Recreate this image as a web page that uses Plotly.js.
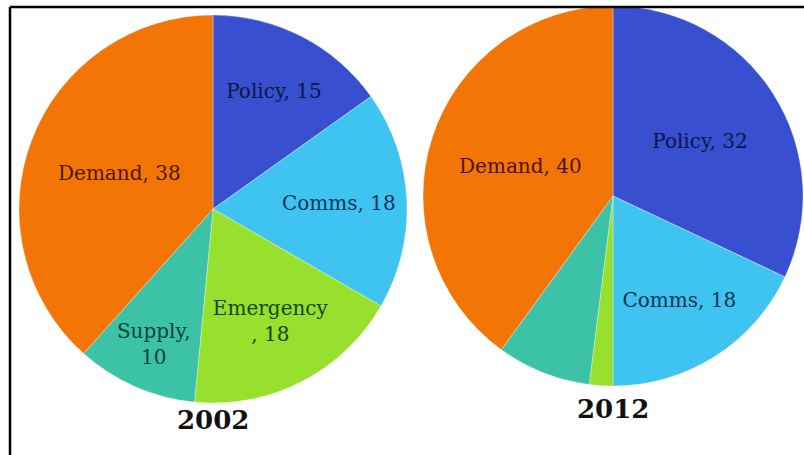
<!DOCTYPE html>
<html>
<head>
<meta charset="utf-8">
<script src="https://cdn.plot.ly/plotly-3.0.1.min.js"></script>
<style>html,body{margin:0;padding:0;background:#fff;}#chart{width:804px;height:455px;}</style>
</head>
<body>
<div id="chart"></div>
<script>
var categories = ["Policy", "Comms", "Emergency", "Supply", "Demand"];
var values2002 = [15, 18, 18, 10, 38];
var values2012 = [32, 18, 2, 8, 40];
var years = ["2002", "2012"];
var sliceColors = ["#3850d0", "#3fc3f0", "#98e02e", "#3cc2a6", "#f27506"];
var textColors = ["#0c1548", "#083552", "#1c4506", "#084236", "#501400"];

var W = 804, H = 455;
function dom(cx, cy, r) {
  return {x: [(cx - r) / W, (cx + r) / W], y: [(H - (cy + r)) / H, (H - (cy - r)) / H]};
}

var texts2002 = [
  categories[0] + ", " + values2002[0],
  categories[1] + ", " + values2002[1],
  categories[2] + "<br>, " + values2002[2],
  categories[3] + ",<br>" + values2002[3],
  categories[4] + ", " + values2002[4]
];
var texts2012 = [
  categories[0] + ", " + values2012[0],
  categories[1] + ", " + values2012[1],
  "",
  "",
  categories[4] + ", " + values2012[4]
];

function pieTrace(vals, texts, d) {
  return {
    type: "pie",
    labels: categories,
    values: vals,
    text: texts,
    textinfo: "text",
    textposition: "inside",
    insidetextorientation: "horizontal",
    sort: false,
    direction: "clockwise",
    rotation: 0,
    domain: d,
    marker: {colors: sliceColors, line: {color: "rgba(255,255,255,0.4)", width: 0.8}},
    insidetextfont: {family: "DejaVu Serif", size: 20, color: textColors},
    hoverinfo: "label+value",
    showlegend: false
  };
}

var data = [
  pieTrace(values2002, texts2002, dom(213, 209, 194)),
  pieTrace(values2012, texts2012, dom(613, 196, 190))
];

var layout = {
  width: W, height: H,
  margin: {l: 0, r: 0, t: 0, b: 0},
  paper_bgcolor: "#ffffff",
  showlegend: false,
  uniformtext: {mode: "show", minsize: 20},
  annotations: [
    {text: "<b>" + years[0] + "</b>", x: 213 / W, y: (H - 420) / H, xref: "paper", yref: "paper", xanchor: "center", yanchor: "middle", showarrow: false, font: {family: "DejaVu Serif", size: 26, color: "#111"}},
    {text: "<b>" + years[1] + "</b>", x: 613 / W, y: (H - 409) / H, xref: "paper", yref: "paper", xanchor: "center", yanchor: "middle", showarrow: false, font: {family: "DejaVu Serif", size: 26, color: "#111"}}
  ],
  shapes: [
    {type: "line", xref: "paper", yref: "paper", x0: 10 / W, x1: 1, y0: (H - 7) / H, y1: (H - 7) / H, line: {color: "#000", width: 2.5}},
    {type: "line", xref: "paper", yref: "paper", x0: 10 / W, x1: 10 / W, y0: 0, y1: (H - 7) / H, line: {color: "#000", width: 2.5}}
  ]
};

Plotly.newPlot("chart", data, layout, {displayModeBar: false, staticPlot: true});
</script>
</body>
</html>
